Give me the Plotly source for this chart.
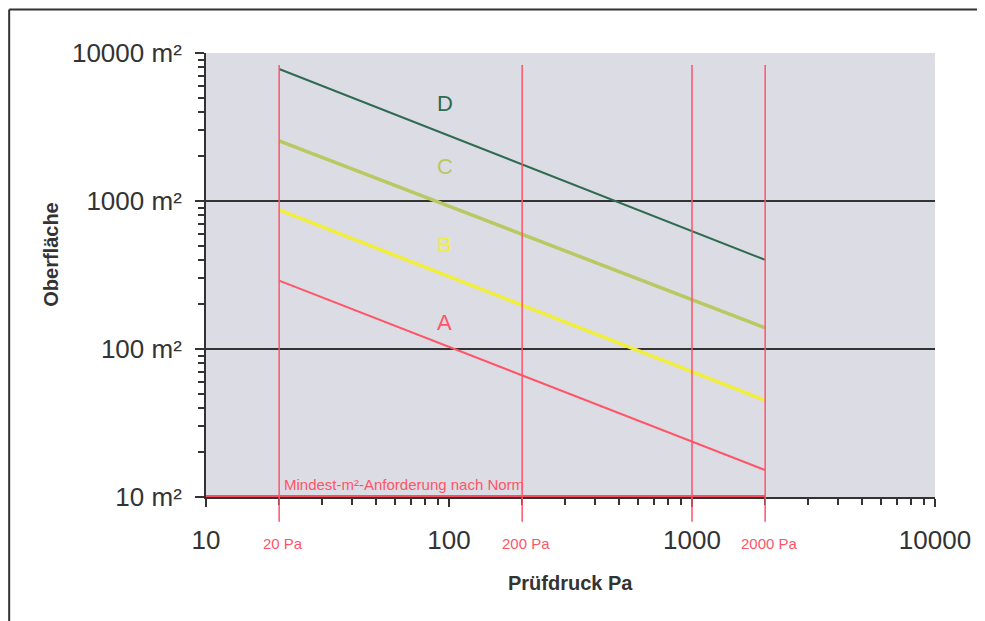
import math
import plotly.graph_objects as go

# ---- data ----
series_names = ["A", "B", "C", "D"]
pressure_pa = [20, 2000]
area_A = [290, 15.2]
area_B = [870, 45]
area_C = [2550, 139]
area_D = [7800, 400]
series_colors = ["#ff5566", "#f2ee3c", "#b9c860", "#2f6b50"]
series_widths = [2, 3.5, 3.5, 2]
label_x = [96, 96, 96, 96]
label_y = [152, 505, 1700, 4590]

x_tick_vals = [10, 100, 1000, 10000]
x_tick_text = ["10", "100", "1000", "10000"]
y_tick_vals = [10, 100, 1000, 10000]
y_tick_text = ["10 m²", "100 m²", "1000 m²", "10000 m²"]
grid_y = [100, 1000]
ref_x = [20, 200, 1000, 2000]
ref_labels = {20: "20 Pa", 200: "200 Pa", 2000: "2000 Pa"}
min_req_x = [10, 2000]
min_req_y = [10, 10]
min_req_text = "Mindest-m²-Anforderung nach Norm"

red = "#ff5468"
dark = "#333333"
lg = math.log10

fig = go.Figure()

# minimum requirement line
fig.add_trace(go.Scatter(x=min_req_x, y=min_req_y, mode="lines",
                         line=dict(color="#ff4d60", width=4), showlegend=False,
                         cliponaxis=False, hoverinfo="skip"))

all_y = [area_A, area_B, area_C, area_D]
for name, ys, col, w in zip(series_names, all_y, series_colors, series_widths):
    fig.add_trace(go.Scatter(x=pressure_pa, y=ys, mode="lines", name=name,
                             line=dict(color=col, width=w), showlegend=False))

for name, lx, ly, col in zip(series_names, label_x, label_y, series_colors):
    fig.add_annotation(x=lg(lx), y=lg(ly), xref="x", yref="y", text=name, showarrow=False,
                       font=dict(size=22, color=col, family="Arial, Liberation Sans"))

shapes = []
for gy in grid_y:
    shapes.append(dict(type="line", xref="paper", yref="y", x0=0, x1=1, y0=gy, y1=gy,
                       line=dict(color=dark, width=2), layer="below"))
for rx in ref_x:
    shapes.append(dict(type="line", xref="x", yref="paper", x0=rx, x1=rx, y0=-0.056, y1=0.973,
                       line=dict(color=red, width=1.5), layer="above"))
    if rx in ref_labels:
        fig.add_annotation(x=lg(rx), y=-0.105, xref="x", yref="paper", text=ref_labels[rx],
                           showarrow=False, xanchor="center", yanchor="middle", xshift=4,
                           font=dict(size=15, color=red, family="Liberation Sans Narrow, Arial"))

# outer frame (left and top)
shapes.append(dict(type="line", xref="paper", yref="paper", x0=-0.2700, x1=-0.2700, y0=1.098, y1=-0.3,
                   line=dict(color=dark, width=2)))
shapes.append(dict(type="line", xref="paper", yref="paper", x0=-0.2700, x1=1.08, y0=1.098, y1=1.098,
                   line=dict(color=dark, width=2)))

fig.add_annotation(x=lg(20), y=lg(10), xref="x", yref="y", text=min_req_text, showarrow=False,
                   xanchor="left", yanchor="bottom", yshift=2, xshift=3,
                   font=dict(size=15, color=red, family="Liberation Sans Narrow, Arial"))

fig.add_annotation(x=0.5, y=-0.194, xref="paper", yref="paper", text="<b>Prüfdruck Pa</b>",
                   showarrow=False, xanchor="center", yanchor="middle",
                   font=dict(size=20, color=dark, family="Arial, Liberation Sans"))
fig.add_annotation(x=-0.213, y=0.545, xref="paper", yref="paper", text="<b>Oberfläche</b>",
                   showarrow=False, textangle=-90, xanchor="center", yanchor="middle",
                   font=dict(size=20, color=dark, family="Arial, Liberation Sans"))

fig.update_layout(
    width=977, height=613,
    margin=dict(l=198, r=50, t=45, b=124),
    paper_bgcolor="white",
    plot_bgcolor="#dcdce5",
    shapes=shapes,
    showlegend=False,
    font=dict(family="Arial, Liberation Sans", color=dark),
)
fig.update_xaxes(type="log", range=[1, 4], tickvals=x_tick_vals, ticktext=x_tick_text,
                 showgrid=False, zeroline=False, showline=True, linecolor=dark, linewidth=2,
                 ticks="outside", ticklen=8, tickwidth=1.5, tickcolor=dark,
                 ticklabelstandoff=11, layer="below traces",
                 tickfont=dict(size=26, color=dark),
                 minor=dict(ticks="outside", ticklen=6, tickcolor=dark, dtick="D1", showgrid=False))
fig.update_yaxes(type="log", range=[1, 4], tickvals=y_tick_vals, ticktext=y_tick_text,
                 showgrid=False, zeroline=False, showline=True, linecolor=dark, linewidth=2,
                 ticks="outside", ticklen=9, tickwidth=1.5, tickcolor=dark,
                 ticklabelstandoff=8, layer="below traces",
                 tickfont=dict(size=26, color=dark),
                 minor=dict(ticks="outside", ticklen=6, tickcolor=dark, dtick="D1", showgrid=False))

fig.write_html("out.html")
